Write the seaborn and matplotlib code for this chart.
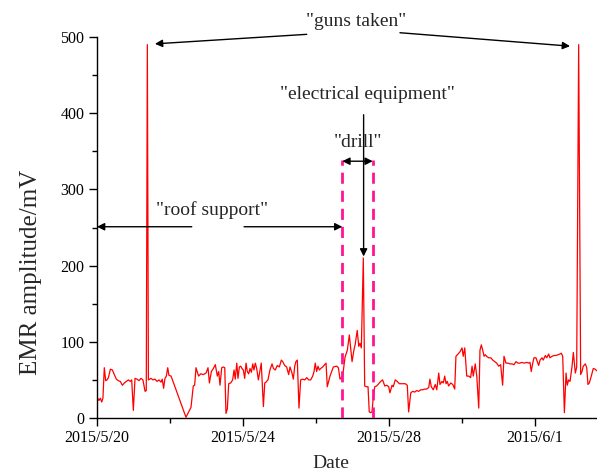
import matplotlib
matplotlib.use("Agg")
import matplotlib.pyplot as plt
import matplotlib.dates as mdates
import seaborn as sns
import pandas as pd
import numpy as np

# ---------------- data ----------------
start = "2015-05-20 00:00"
hours = [0.4, 1.3, 2.2, 3.1, 3.9, 4.8, 5.7, 6.6, 7.5, 8.8, 10.1, 11.4, 12.7, 14.0, 15.3, 16.7, 18.0, 19.3,
         20.6, 21.9, 22.8, 23.9, 25.0, 26.3, 27.6, 28.9, 30.2, 31.6, 32.4, 33.1, 33.8, 34.6, 35.5, 36.8,
         38.1, 39.5, 40.8, 42.1, 42.9, 43.8, 44.7, 45.6, 46.5, 47.3, 48.7, 58.5, 61.8, 63.3, 64.2, 65.1,
         66.8, 68.2, 69.9, 71.7, 73.0, 73.9, 75.2, 76.5, 77.8, 79.1, 80.0, 80.9, 82.0, 83.0, 84.0, 84.8,
         85.7, 86.6, 87.9, 89.2, 90.1, 90.9, 91.9, 92.7, 93.6, 94.5, 95.3, 96.2, 97.1, 98.0, 98.8, 99.7,
         100.6, 101.5, 102.4, 103.2, 104.1, 105.0, 106.1, 107.2, 108.0, 109.4, 110.3, 111.1, 112.4, 113.7,
         115.1, 116.0, 117.2, 118.6, 119.9, 121.2, 122.1, 123.4, 124.7, 126.0, 126.9, 128.2, 129.1, 130.0,
         130.8, 131.7, 132.8, 133.9, 135.2, 136.6, 137.9, 139.2, 140.5, 141.8, 142.7, 143.5, 144.4, 145.3,
         146.2, 147.1, 148.4, 149.7, 150.6, 151.4, 152.3, 153.2, 155.4, 157.6, 158.7, 159.8, 161.5, 163.1,
         164.6, 165.9, 166.8, 167.7, 169.0, 169.8, 171.1, 172.1, 172.9, 173.8, 175.1, 176.0, 177.3, 178.2,
         179.0, 180.0, 180.8, 181.7, 182.6, 183.9, 185.2, 186.5, 187.8, 189.2, 190.5, 191.8, 192.6, 194.0,
         194.8, 196.1, 197.4, 198.8, 200.1, 201.4, 202.7, 204.0, 204.9, 206.3, 207.6, 208.9, 210.2, 211.5,
         212.8, 214.1, 215.5, 216.8, 218.1, 218.9, 219.8, 221.1, 222.4, 223.4, 224.7, 225.5, 226.8, 227.7,
         228.6, 229.5, 230.3, 231.2, 232.6, 233.9, 235.2, 236.0, 237.4, 238.7, 240.0, 240.8, 241.8, 243.1,
         244.4, 245.7, 246.6, 247.4, 248.7, 249.7, 251.0, 251.8, 252.7, 253.6, 254.5, 255.3, 256.2, 257.5,
         258.9, 260.2, 261.5, 262.8, 264.1, 265.4, 266.7, 267.6, 268.9, 270.2, 271.5, 272.9, 274.2, 275.5,
         276.8, 278.1, 279.4, 280.8, 282.5, 283.8, 284.7, 285.5, 286.5, 287.3, 288.6, 289.5, 290.4, 291.3,
         292.6, 293.4, 294.8, 295.7, 297.0, 297.8, 299.2, 300.5, 301.8, 303.1, 304.4, 305.3, 306.2, 307.3,
         308.4, 309.2, 310.1, 311.0, 312.3, 313.2, 314.5, 315.4, 316.7, 318.0, 318.9, 319.7, 321.1, 322.0,
         322.8, 323.7, 325.0, 326.3, 327.6, 328.5]
amplitude = [26, 23, 26, 21, 26, 66, 49, 50, 53, 64, 63, 57, 51, 49, 48, 43, 46, 48,
             50, 48, 50, 10, 52, 51, 49, 52, 50, 35, 36, 490, 50, 51, 52, 50,
             51, 48, 50, 47, 51, 39, 52, 55, 66, 56, 55, 1, 14, 42, 43, 66,
             55, 58, 57, 59, 66, 46, 61, 65, 70, 55, 61, 43, 66, 67, 66, 6,
             12, 45, 46, 50, 63, 51, 72, 52, 67, 68, 65, 63, 52, 72, 61, 58,
             65, 60, 71, 63, 72, 65, 50, 63, 72, 15, 46, 47, 50, 63,
             71, 65, 63, 69, 67, 76, 74, 69, 67, 57, 67, 59, 51, 68,
             74, 76, 13, 50, 51, 50, 53, 50, 50, 55, 61, 72, 61, 68,
             63, 65, 67, 70, 72, 41, 48, 55, 67, 68, 66, 51, 55, 80,
             89, 109, 91, 74, 90, 97, 115, 94, 98, 92, 210, 42, 41, 41,
             8, 7, 8, 28, 41, 42, 45, 48, 50, 42, 43, 41, 33, 43,
             41, 50, 48, 45, 45, 45, 45, 43, 8, 33, 35, 34, 36, 35,
             37, 37, 38, 38, 40, 51, 41, 37, 44, 37, 59, 44, 48, 46,
             55, 45, 48, 42, 46, 44, 38, 81, 84, 87, 92, 81, 92, 55,
             55, 53, 68, 55, 71, 55, 13, 89, 96, 89, 81, 83, 81, 79,
             79, 76, 74, 72, 68, 70, 43, 81, 72, 72, 71, 71, 70, 74,
             72, 72, 73, 72, 73, 72, 73, 61, 72, 79, 79, 74, 69, 76,
             79, 76, 82, 79, 84, 79, 81, 82, 82, 83, 84, 85, 81, 7,
             59, 43, 50, 48, 67, 86, 59, 67, 490, 57, 61, 68, 71, 66,
             44, 46, 55, 65, 64, 62]
major_tick_dates = ["2015-05-20", "2015-05-24", "2015-05-28", "2015-06-01"]
minor_tick_dates = ["2015-05-22", "2015-05-26", "2015-05-30"]
y_ticks = [0, 100, 200, 300, 400, 500]

# ---------------- figure ----------------
sns.set_style("ticks")
plt.rcParams["font.family"] = ["Liberation Serif", "DejaVu Serif"]

t0 = pd.Timestamp(start)
df = pd.DataFrame({"time": t0 + pd.to_timedelta(hours, unit="h"), "amp": amplitude})

def T(h):
    return mdates.date2num(t0 + pd.Timedelta(hours=h))

fig = plt.figure(figsize=(5.97, 4.75), dpi=100)
ax = fig.add_axes([97 / 597, 57 / 475, 500 / 597, 381 / 475])

sns.lineplot(data=df, x="time", y="amp", color="#ff0000", linewidth=0.9, ax=ax)

ax.set_xlim(T(0), T(328.75))
ax.set_ylim(0, 500)

ax.xaxis.set_major_locator(matplotlib.ticker.FixedLocator(mdates.date2num(pd.to_datetime(major_tick_dates))))
ax.xaxis.set_minor_locator(matplotlib.ticker.FixedLocator(mdates.date2num(pd.to_datetime(minor_tick_dates))))

def fmt(x, pos):
    d = mdates.num2date(x)
    return f"{d.year}/{d.month}/{d.day}"

ax.xaxis.set_major_formatter(matplotlib.ticker.FuncFormatter(fmt))
ax.set_yticks(y_ticks)
ax.yaxis.set_minor_locator(matplotlib.ticker.MultipleLocator(50))

for s in ["top", "right"]:
    ax.spines[s].set_visible(False)
for s in ["left", "bottom"]:
    ax.spines[s].set_linewidth(1.0)
    ax.spines[s].set_color("black")
ax.tick_params(axis="both", which="major", direction="out", length=6, width=1, labelsize=11.5,
               colors="black", pad=3)
ax.tick_params(axis="both", which="minor", direction="out", length=3.5, width=1, colors="black")

ax.set_xlabel("Date", fontsize=14)
ax.xaxis.set_label_coords((331 - 97) / 500, -(463 - 418) / 381)
ax.set_ylabel("EMR amplitude/mV", fontsize=18)
ax.yaxis.set_label_coords((31 - 97) / 500, (418 - 272) / 381)
ax.yaxis.label.set_va("center")
ax.xaxis.label.set_va("center")

# ---------------- annotations ----------------
pink = "#ff1493"
for h in (161.3, 181.3):
    ax.plot([T(h), T(h)], [0, 339], color=pink, lw=2.0, ls=(0, (4, 2.5)), zorder=3)

arrow = dict(arrowstyle="-|>", color="black", lw=1.0, mutation_scale=11, shrinkA=0, shrinkB=0)
arrow2 = dict(arrowstyle="<|-|>", color="black", lw=1.0, mutation_scale=11, shrinkA=0, shrinkB=0)

# guns taken
ax.text(T(170.7), 520, '"guns taken"', ha="center", va="center", fontsize=14, clip_on=False)
ax.annotate("", xy=(T(38.1), 491), xytext=(T(137.9), 503.5), arrowprops=arrow, annotation_clip=False)
ax.annotate("", xy=(T(311.0), 488), xytext=(T(199.2), 505.6), arrowprops=arrow, annotation_clip=False)

# electrical equipment
ax.text(T(177.5), 425, '"electrical equipment"', ha="center", va="center", fontsize=14)
ax.annotate("", xy=(T(175.3), 212), xytext=(T(175.3), 398), arrowprops=arrow)

# drill
ax.text(T(171.6), 362, '"drill"', ha="center", va="center", fontsize=14)
ax.annotate("", xy=(T(161.3), 337), xytext=(T(181.3), 337), arrowprops=arrow2)

# roof support
ax.text(T(75.4), 273, '"roof support"', ha="center", va="center", fontsize=14)
ax.annotate("", xy=(T(0), 251), xytext=(T(62.3), 251), arrowprops=arrow, annotation_clip=False)
ax.annotate("", xy=(T(161.3), 251), xytext=(T(96.7), 251), arrowprops=arrow)

fig.savefig("out.png", dpi=100)
